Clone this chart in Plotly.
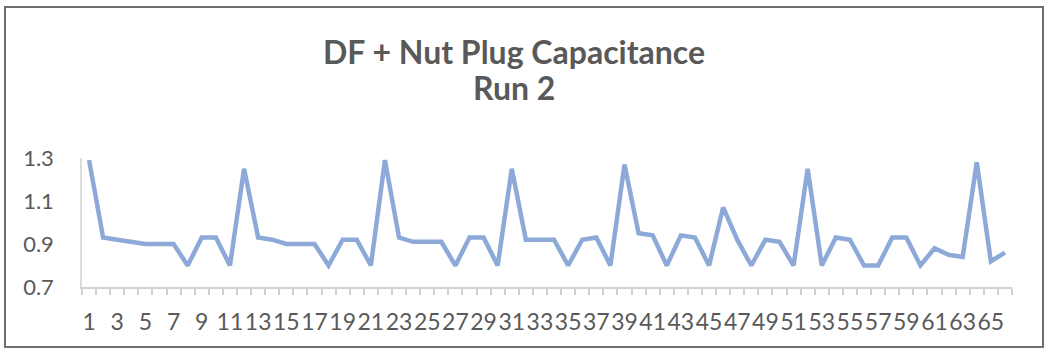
import plotly.graph_objects as go

# Measurement index (1..66) and capacitance readings for Run 2
samples = [
    1, 2, 3, 4, 5, 6, 7, 8, 9, 10, 11, 12, 13, 14, 15, 16, 17, 18, 19, 20, 21, 22,
    23, 24, 25, 26, 27, 28, 29, 30, 31, 32, 33, 34, 35, 36, 37, 38, 39, 40, 41, 42,
    43, 44, 45, 46, 47, 48, 49, 50, 51, 52, 53, 54, 55, 56, 57, 58, 59, 60, 61, 62,
    63, 64, 65, 66,
]
capacitance = [
    1.29, 0.93, 0.92, 0.91, 0.90, 0.90, 0.90, 0.80, 0.93, 0.93, 0.80, 1.25,
    0.93, 0.92, 0.90, 0.90, 0.90, 0.80, 0.92, 0.92, 0.80, 1.29,
    0.93, 0.91, 0.91, 0.91, 0.80, 0.93, 0.93, 0.80, 1.25,
    0.92, 0.92, 0.92, 0.80, 0.92, 0.93, 0.80, 1.27,
    0.95, 0.94, 0.80, 0.94, 0.93, 0.80, 1.07, 0.92, 0.80, 0.92, 0.91, 0.80, 1.25,
    0.80, 0.93, 0.92, 0.80, 0.80, 0.93, 0.93, 0.80, 0.88, 0.85, 0.84, 1.28, 0.82, 0.86,
]
x_tick_vals = [1, 3, 5, 7, 9, 11, 13, 15, 17, 19, 21, 23, 25, 27, 29, 31, 33,
               35, 37, 39, 41, 43, 45, 47, 49, 51, 53, 55, 57, 59, 61, 63, 65]
x_tick_text = [str(v) for v in x_tick_vals]
y_tick_vals = [0.7, 0.9, 1.1, 1.3]
y_tick_text = ["0.7", "0.9", "1.1", "1.3"]

title_line1 = "DF + Nut Plug Capacitance"
title_line2 = "Run 2"

W, H = 1048, 354
ML, MR, MT, MB = 82, 36, 158, 67
plot_w = W - ML - MR
plot_h = H - MT - MB

def px_x(p):
    return (p - ML) / plot_w

def px_y(p):
    return (H - MB - p) / plot_h

text_grey = "#595959"
font_family = "Lato, Open Sans, sans-serif"

fig = go.Figure()
fig.add_trace(go.Scatter(
    x=samples, y=capacitance, mode="lines",
    line=dict(color="#8DA9D8", width=4.5),
    showlegend=False, hoverinfo="x+y",
))

fig.update_layout(
    width=W, height=H,
    margin=dict(l=ML, r=MR, t=MT, b=MB),
    paper_bgcolor="white", plot_bgcolor="white",
    font=dict(family=font_family, color=text_grey),
    xaxis=dict(
        range=[0.5, len(samples) + 0.5],
        tickmode="array", tickvals=x_tick_vals, ticktext=x_tick_text,
        tickangle=0,
        ticks="", ticklabelstandoff=14,
        tickfont=dict(size=23, color=text_grey),
        showgrid=False, zeroline=False,
        showline=True, linecolor="#D0D0D0", linewidth=1.5,
        minor=dict(tick0=0.5, dtick=1, ticks="outside", ticklen=6,
                   tickcolor="#D0D0D0", tickwidth=1.5, showgrid=False),
    ),
    yaxis=dict(
        range=[0.7, 1.3],
        tickmode="array", tickvals=y_tick_vals, ticktext=y_tick_text,
        ticks="", ticklabelstandoff=22,
        tickfont=dict(size=22, color=text_grey),
        showgrid=False, zeroline=False,
        showline=True, linecolor="#DCDCDC", linewidth=1.5,
    ),
    shapes=[dict(
        type="rect", xref="paper", yref="paper",
        x0=px_x(5), x1=px_x(1043), y0=px_y(347), y1=px_y(7),
        line=dict(color="#6E6E6E", width=2), fillcolor="rgba(0,0,0,0)",
        layer="below",
    )],
    annotations=[
        dict(text=f"<b>{title_line1}</b>", xref="paper", yref="paper",
             x=px_x(514), y=px_y(51), xanchor="center", yanchor="middle",
             showarrow=False, font=dict(size=32, color=text_grey, family=font_family)),
        dict(text=f"<b>{title_line2}</b>", xref="paper", yref="paper",
             x=px_x(514), y=px_y(88), xanchor="center", yanchor="middle",
             showarrow=False, font=dict(size=32, color=text_grey, family=font_family)),
    ],
)

fig.write_html("out.html")
